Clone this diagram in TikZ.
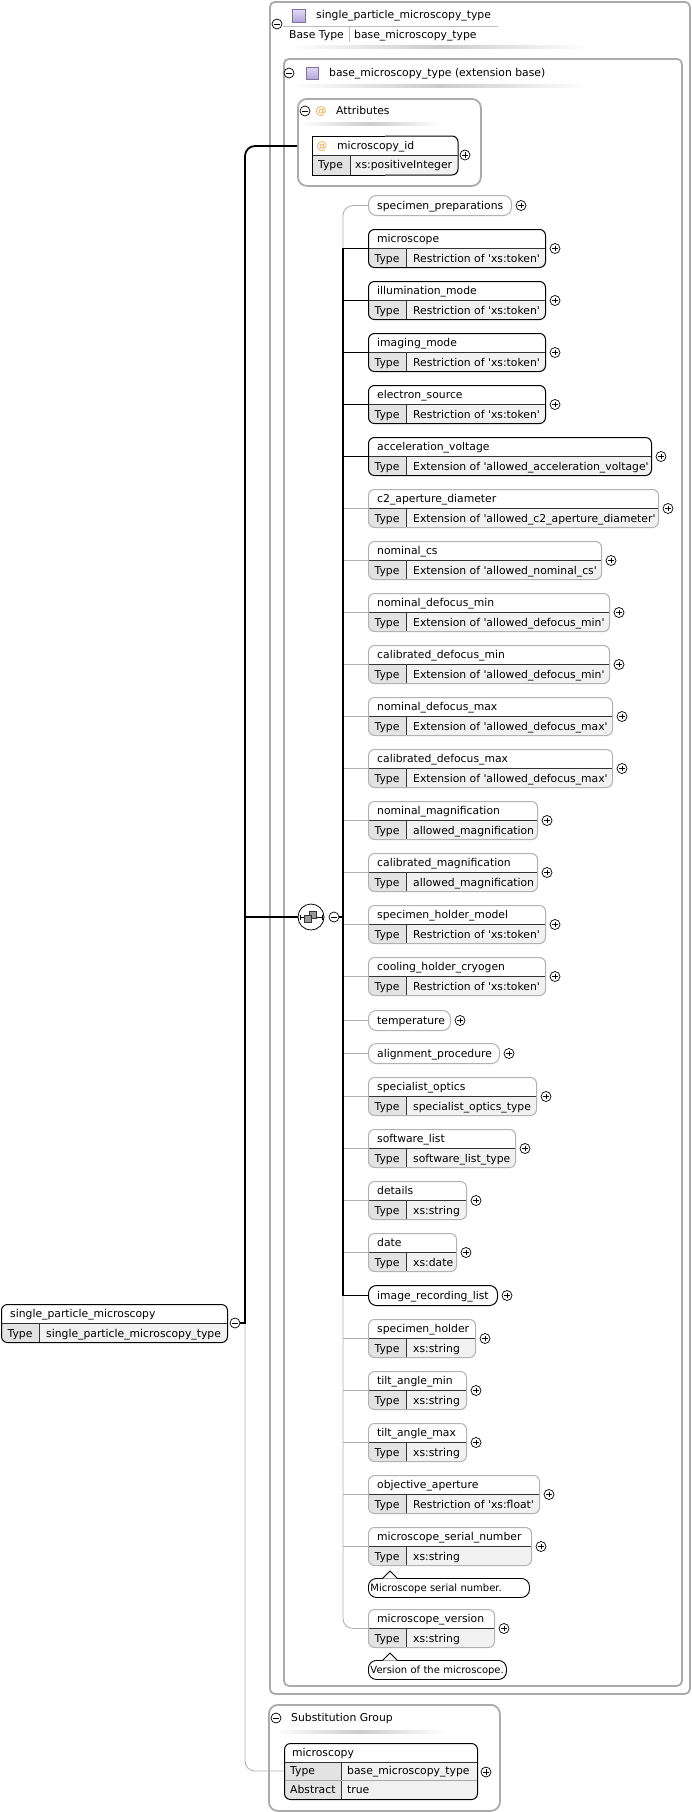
\documentclass[tikz,border=0pt]{standalone}
\usepackage{fontspec}
\setmainfont{DejaVu Sans}[Ligatures=TeXOff]
\usetikzlibrary{calc}
\definecolor{framegray}{HTML}{ABABAB}
\definecolor{optline}{HTML}{B2B2B2}
\definecolor{typecell}{HTML}{E3E3E3}
\definecolor{valcell}{HTML}{F1F1F1}
\definecolor{atsign}{HTML}{EFA23A}
\definecolor{iconlight}{HTML}{E2DCF5}
\definecolor{icondark}{HTML}{B3A5DA}
\definecolor{rulegray}{HTML}{BDBDBD}

\tikzset{
  lbl/.style={anchor=west,inner sep=0pt,text height=7.8pt,text depth=0pt},
  typek/.style={inner sep=0pt,text height=7.8pt,text depth=0pt},
  frame/.style={draw=framegray,line width=1.8pt,rounded corners=5pt,inner sep=0pt,anchor=north west},
  elembox/.style={draw=#1,fill=white,rounded corners=6pt,line width=1pt,minimum height=38pt,inner sep=0pt,anchor=north west,
    path picture={
      \fill[valcell,sharp corners] (path picture bounding box.west) rectangle (path picture bounding box.south east);
      \fill[typecell,sharp corners] (path picture bounding box.west) rectangle ([xshift=38pt]path picture bounding box.south west);
      \draw[black!80,line width=.8pt,sharp corners] (path picture bounding box.west) -- (path picture bounding box.east) ([xshift=38pt]path picture bounding box.west) -- ([xshift=38pt]path picture bounding box.south west);
    }},
  elembox/.default=black,
  leafbox/.style={draw=#1,fill=white,rounded corners=8pt,line width=1pt,minimum height=20pt,inner sep=0pt,anchor=north west},
  leafbox/.default=black,
  docnote/.style={draw,fill=white,rounded corners=8pt,line width=.9pt,minimum height=19pt,inner xsep=2pt,inner ysep=0pt,anchor=north west,align=left,text height=7.8pt,text depth=0pt,font=\fontsize{10pt}{12pt}\selectfont},
  minusmark/.style={circle,draw,fill=white,line width=.7pt,minimum size=10pt,inner sep=0pt,
    path picture={\draw[line width=.7pt] ([xshift=-2.6pt]path picture bounding box.center) -- ([xshift=2.6pt]path picture bounding box.center);}},
  plusmark/.style={circle,draw,fill=white,line width=.7pt,minimum size=10pt,inner sep=0pt,
    path picture={\draw[line width=.7pt] ([xshift=-2.6pt]path picture bounding box.center) -- ([xshift=2.6pt]path picture bounding box.center) ([yshift=-2.6pt]path picture bounding box.center) -- ([yshift=2.6pt]path picture bounding box.center);}},
  typeicon/.style={draw=icondark!70!black,line width=.5pt,top color=iconlight,bottom color=icondark,minimum size=13pt,inner sep=0pt},
  seqicon/.style={circle,draw,fill=white,line width=.8pt,minimum size=26pt,inner sep=0pt},
  headshade/.style={left color=white,right color=white,middle color=black!20},
  reqwire/.style={black,line width=1.8pt},
  optwire/.style={optline,line width=.9pt},
  thinrule/.style={rulegray,line width=.8pt}
}

% element with name row and type row
\newcommand{\elem}[7][black]{%
  \node[elembox=#1,minimum width=#5pt-#3pt] (#2) at (#3,-#4) {};
  \node[lbl] (#2-n) at ([xshift=9pt,yshift=-9.5pt]#2.north west) {#6};
  \node[typek] (#2-k) at ([xshift=19pt,yshift=9.5pt]#2.south west) {Type};
  \node[lbl] (#2-v) at ([xshift=45pt,yshift=9.5pt]#2.south west) {#7};}
\newcommand{\child}[6][black]{%
  \elem[#1]{#2}{368}{#3}{#4}{#5}{#6}%
  \node[plusmark] (#2-x) at ([xshift=9pt]#2.east) {};}
% element with name only
\newcommand{\leaf}[5][black]{%
  \node[leafbox=#1,minimum width=#4pt-368pt] (#2) at (368,-#3) {};
  \node[lbl] (#2-n) at ([xshift=9pt]#2.west) {#5};
  \node[plusmark] (#2-x) at ([xshift=9pt]#2.east) {};}

\begin{document}
\begin{tikzpicture}[x=1pt,y=1pt,font=\fontsize{10.8pt}{13pt}\selectfont]
\useasboundingbox (0,0) rectangle (691,-1812);
\fill[white] (0,0) rectangle (691,-1812);

% containers
\node[frame,minimum width=420pt,minimum height=1692pt] (typebox) at (269,-1) {};
\node[frame,minimum width=398pt,minimum height=1627pt] (basebox) at (283,-58) {};
\node[frame,rounded corners=9pt,minimum width=183pt,minimum height=87pt] (attrs) at (297,-98) {};
\node[frame,rounded corners=9pt,minimum width=231pt,minimum height=106pt] (subst) at (268,-1704) {};

% type header
\node[minusmark] (typebox-c) at (277,-24) {};
\node[typeicon] (typeico) at (298.5,-15.5) {};
\node[lbl] (typename) at (316,-15) {single\_particle\_microscopy\_type};
\draw[thinrule] (283,-26) -- (498,-26);
\node[lbl] (basekey) at (289,-34.5) {Base Type};
\draw[thinrule] (349,-27) -- (349,-42);
\node[lbl] (baseval) at (354,-34.5) {base\_microscopy\_type};
\shade[headshade] (290,-45.5) rectangle (590,-48.5);

\node[minusmark] (basebox-c) at (289,-73) {};
\node[typeicon,minimum size=12pt] (baseico) at (312,-73) {};
\node[lbl] (basename) at (329,-73) {base\_microscopy\_type (extension base)};
\shade[headshade] (290,-84.5) rectangle (590,-87.5);

% attributes
\node[minusmark] (attrs-c) at (305,-111) {};
\node[lbl,anchor=center,text=atsign] (attrs-at) at (321,-111) {@};
\node[lbl] (attrs-n) at (336,-111) {Attributes};
\shade[headshade] (300,-122.5) rectangle (440,-125.5);
\node[elembox,draw=none,sharp corners,minimum width=145pt] (mid) at (312,-136) {};
\draw[line width=1pt] (mid.north) -- (mid.north west) -- (mid.south west) -- (mid.south);
\draw[line width=1pt,rounded corners=6pt] (mid.north) -| (mid.east) |- (mid.south);
\node[lbl,anchor=center,text=atsign] (mid-at) at (322,-146) {@};
\node[lbl] (mid-n) at (337,-146) {microscopy\_id};
\node[typek] (mid-k) at (330.5,-165) {Type};
\node[lbl] (mid-v) at (355,-165) {xs:positiveInteger};
\node[plusmark] (mid-x) at (465,-155) {};

% sequence children
\leaf[optline]{specprep}{195}{511}{specimen\_preparations}
\child{microscope}{229}{545}{microscope}{Restriction of 'xs:token'}
\child{illum}{281}{545}{illumination\_mode}{Restriction of 'xs:token'}
\child{imaging}{333}{545}{imaging\_mode}{Restriction of 'xs:token'}
\child{esource}{385}{545}{electron\_source}{Restriction of 'xs:token'}
\child{accvolt}{437}{651}{acceleration\_voltage}{Extension of 'allowed\_acceleration\_voltage'}
\child[optline]{ctwo}{489}{658}{c2\_aperture\_diameter}{Extension of 'allowed\_c2\_aperture\_diameter'}
\child[optline]{ncs}{541}{601}{nominal\_cs}{Extension of 'allowed\_nominal\_cs'}
\child[optline]{ndmin}{593}{609}{nominal\_defocus\_min}{Extension of 'allowed\_defocus\_min'}
\child[optline]{cdmin}{645}{609}{calibrated\_defocus\_min}{Extension of 'allowed\_defocus\_min'}
\child[optline]{ndmax}{697}{612}{nominal\_defocus\_max}{Extension of 'allowed\_defocus\_max'}
\child[optline]{cdmax}{749}{612}{calibrated\_defocus\_max}{Extension of 'allowed\_defocus\_max'}
\child[optline]{nmag}{801}{537}{nominal\_magnification}{allowed\_magnification}
\child[optline]{cmag}{853}{537}{calibrated\_magnification}{allowed\_magnification}
\child[optline]{holdermodel}{905}{545}{specimen\_holder\_model}{Restriction of 'xs:token'}
\child[optline]{cryogen}{957}{545}{cooling\_holder\_cryogen}{Restriction of 'xs:token'}
\leaf[optline]{temp}{1010}{450}{temperature}
\leaf[optline]{alignproc}{1043}{499}{alignment\_procedure}
\child[optline]{optics}{1077}{536}{specialist\_optics}{specialist\_optics\_type}
\child[optline]{software}{1129}{515}{software\_list}{software\_list\_type}
\child[optline]{details}{1181}{466}{details}{xs:string}
\child[optline]{date}{1233}{456}{date}{xs:date}
\leaf{imgrec}{1285}{497}{image\_recording\_list}
\child[optline]{holder}{1319}{475}{specimen\_holder}{xs:string}
\child[optline]{tiltmin}{1371}{466}{tilt\_angle\_min}{xs:string}
\child[optline]{tiltmax}{1423}{466}{tilt\_angle\_max}{xs:string}
\child[optline]{objap}{1475}{539}{objective\_aperture}{Restriction of 'xs:float'}
\child[optline]{serial}{1527}{531}{microscope\_serial\_number}{xs:string}
\child[optline]{mversion}{1609}{494}{microscope\_version}{xs:string}

% documentation
\node[docnote,text width=157pt] (serial-doc) at (368,-1578) {Microscope serial number.};
\fill[white] ([xshift=15pt,yshift=-.7pt]serial-doc.north west) -- ++(7,7) -- ++(7,-7) -- cycle;
\draw[line width=.9pt] ([xshift=15pt]serial-doc.north west) -- ++(7,7) -- ++(7,-7);
\node[docnote,text width=134pt] (mversion-doc) at (368,-1660) {Version of the microscope.};
\fill[white] ([xshift=15pt,yshift=-.7pt]mversion-doc.north west) -- ++(7,7) -- ++(7,-7) -- cycle;
\draw[line width=.9pt] ([xshift=15pt]mversion-doc.north west) -- ++(7,7) -- ++(7,-7);

% root element
\elem{root}{1}{1304}{227}{single\_particle\_microscopy}{single\_particle\_microscopy\_type}
\node[minusmark] (root-c) at (235,-1323) {};

% substitution group
\node[minusmark] (subst-c) at (276,-1718) {};
\node[lbl] (subst-n) at (291,-1718) {Substitution Group};
\shade[headshade] (275,-1730.5) rectangle (445,-1733.5);
\node[draw,fill=white,rounded corners=6pt,line width=1pt,minimum width=193pt,minimum height=56pt,inner sep=0pt,anchor=north west,
  path picture={
    \fill[valcell,sharp corners] ([yshift=-19pt]path picture bounding box.north west) rectangle (path picture bounding box.south east);
    \fill[typecell,sharp corners] ([yshift=-19pt]path picture bounding box.north west) rectangle ([xshift=57pt]path picture bounding box.south west);
    \draw[black!80,line width=.8pt,sharp corners] ([yshift=-19pt]path picture bounding box.north west) -- ([yshift=-19pt]path picture bounding box.north east) ([xshift=57pt,yshift=-19pt]path picture bounding box.north west) -- ([xshift=57pt]path picture bounding box.south west);
    \draw[black!35,line width=.8pt,sharp corners] ([yshift=-37pt]path picture bounding box.north west) -- ([yshift=-37pt]path picture bounding box.north east);
  }] (mcy) at (284,-1743) {};
\node[lbl] (mcy-n) at (292,-1752.5) {microscopy};
\node[lbl] (mcy-k) at (290,-1771) {Type};
\node[lbl] (mcy-v) at (347,-1771) {base\_microscopy\_type};
\node[lbl] (mcy-ak) at (290,-1789.5) {Abstract};
\node[lbl] (mcy-av) at (347,-1789.5) {true};
\node[plusmark] (mcy-x) at (486,-1772) {};

% sequence compositor
\coordinate (trunk) at (245,-917);
\coordinate (bus) at (343,-917);
\node[seqicon] (seq) at (311,-917) {};
\draw[line width=.6pt] (300,-917) -- (322,-917) (300,-914.5) -- (300,-919.5) (322,-914.5) -- (322,-919.5);
\filldraw[fill=black!40,draw=black!80,line width=.5pt] (309,-911) rectangle (316,-918);
\filldraw[fill=black!40,draw=black!80,line width=.5pt] (304,-915) rectangle (311,-922);
\node[minusmark] (seq-c) at (334,-917) {};

% connectors
\draw[optwire,rounded corners=10pt] (specprep.west) -| (bus) |- (mversion.west);
\draw[optwire] (bus |- ctwo.west) -- (ctwo.west);\draw[optwire] (bus |- ncs.west) -- (ncs.west);\draw[optwire] (bus |- ndmin.west) -- (ndmin.west);\draw[optwire] (bus |- cdmin.west) -- (cdmin.west);
\draw[optwire] (bus |- ndmax.west) -- (ndmax.west);\draw[optwire] (bus |- cdmax.west) -- (cdmax.west);\draw[optwire] (bus |- nmag.west) -- (nmag.west);\draw[optwire] (bus |- cmag.west) -- (cmag.west);
\draw[optwire] (bus |- holdermodel.west) -- (holdermodel.west);\draw[optwire] (bus |- cryogen.west) -- (cryogen.west);\draw[optwire] (bus |- temp.west) -- (temp.west);\draw[optwire] (bus |- alignproc.west) -- (alignproc.west);
\draw[optwire] (bus |- optics.west) -- (optics.west);\draw[optwire] (bus |- software.west) -- (software.west);\draw[optwire] (bus |- details.west) -- (details.west);\draw[optwire] (bus |- date.west) -- (date.west);
\draw[optwire] (bus |- holder.west) -- (holder.west);\draw[optwire] (bus |- tiltmin.west) -- (tiltmin.west);\draw[optwire] (bus |- tiltmax.west) -- (tiltmax.west);\draw[optwire] (bus |- objap.west) -- (objap.west);\draw[optwire] (bus |- serial.west) -- (serial.west);
\draw[reqwire] (microscope.west) -| (bus) |- (imgrec.west);
\draw[reqwire] (bus |- illum.west) -- (illum.west);\draw[reqwire] (bus |- imaging.west) -- (imaging.west);\draw[reqwire] (bus |- esource.west) -- (esource.west);\draw[reqwire] (bus |- accvolt.west) -- (accvolt.west);
\draw[reqwire] (seq-c.east) -- (bus);
\draw[optwire,rounded corners=10pt] (trunk |- root-c) |- (mcy-k -| mcy.west);
\draw[reqwire,rounded corners=10pt] (attrs.west |- mid-n) -| (trunk);
\draw[reqwire] (trunk) |- (root-c.east);
\draw[reqwire] (trunk) -- (seq.west);
\end{tikzpicture}
\end{document}
